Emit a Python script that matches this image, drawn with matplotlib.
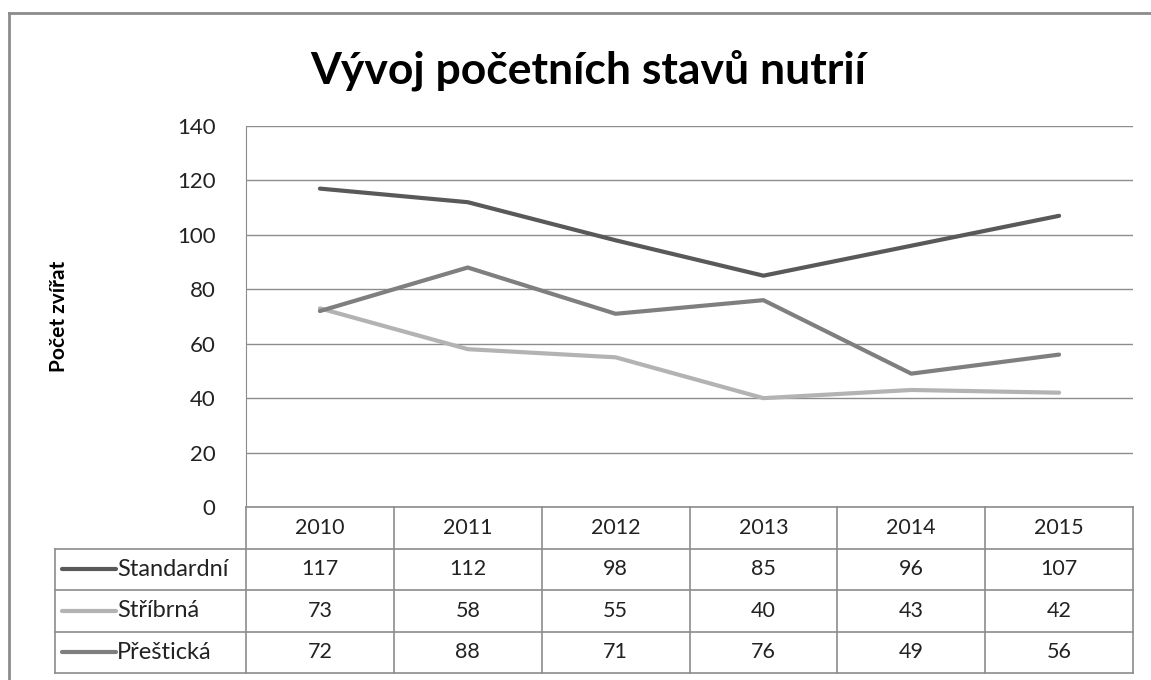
import numpy as np
import matplotlib.pyplot as plt

years = ['2010', '2011', '2012', '2013', '2014', '2015']
series_names = ['Standardní', 'Stříbrná', 'Přeštická']
standardni = [117, 112, 98, 85, 96, 107]
stribrna = [73, 58, 55, 40, 43, 42]
presticka = [72, 88, 71, 76, 49, 56]
values = [standardni, stribrna, presticka]
colors = ['#595959', '#b3b3b3', '#7f7f7f']

plt.rcParams['font.family'] = ['Lato', 'DejaVu Sans']
W, H = 1151, 680
fig = plt.figure(figsize=(W / 100, H / 100), dpi=100)

# outer frame (only top and left edges fall inside the picture)
fig.add_artist(plt.Line2D([9 / W, 1.05], [1 - 13 / H, 1 - 13 / H], transform=fig.transFigure,
                          color='#8c8c8c', lw=2))
fig.add_artist(plt.Line2D([9 / W, 9 / W], [-0.05, 1 - 13 / H], transform=fig.transFigure,
                          color='#8c8c8c', lw=2))

fig.text(588 / W, 1 - 70 / H, 'Vývoj početních stavů nutrií', ha='center', va='center',
         fontsize=32, fontweight='bold', color='black')

x0, x1, y0, y1 = 246, 1133, 126, 507
ax = fig.add_axes([x0 / W, 1 - y1 / H, (x1 - x0) / W, (y1 - y0) / H])
xs = np.arange(len(years)) + 0.5
for v, c in zip(values, colors):
    ax.plot(xs, v, color=c, lw=3, solid_capstyle='round', solid_joinstyle='round', zorder=3)
ax.set_xlim(0, len(years))
ax.set_ylim(0, 140)
ax.set_yticks(range(0, 141, 20))
ax.set_xticks([])
ax.grid(axis='y', color='#8c8c8c', lw=1)
for s in ['top', 'right', 'bottom']:
    ax.spines[s].set_visible(False)
ax.spines['left'].set_color('#8c8c8c')
ax.tick_params(axis='y', length=0, pad=22, labelsize=16, labelcolor='#222222')
ax.set_ylabel('Počet zvířat', fontsize=15, fontweight='bold')
ax.yaxis.set_label_coords(-0.2, 0.5)

# data table
t0 = 55
tab = fig.add_axes([t0 / W, 1 - 673 / H, (x1 - t0) / W, (673 - y1) / H])
colw = (x1 - x0) / len(years)
left = -(x0 - t0) / colw
tab.set_xlim(left, len(years))
tab.set_ylim(4, 0)
tab.axis('off')
gc = '#8c8c8c'
for r in range(1, 5):
    tab.plot([left, len(years)], [r, r], color=gc, lw=1.2, clip_on=False)
tab.plot([0, len(years)], [0, 0], color=gc, lw=1.2, clip_on=False)
for c in range(len(years) + 1):
    tab.plot([c, c], [0, 4], color=gc, lw=1.2, clip_on=False)
tab.plot([left, left], [1, 4], color=gc, lw=1.2, clip_on=False)
for i, y in enumerate(years):
    tab.text(i + 0.5, 0.5, y, ha='center', va='center', fontsize=15.5, color='#222222')
for r, (name, v, c) in enumerate(zip(series_names, values, colors)):
    yy = r + 1.5
    tab.plot([left + 0.045, left + 0.41], [yy, yy], color=c, lw=3, solid_capstyle='round')
    tab.text(left + 0.42, yy, name, ha='left', va='center', fontsize=17, color='#222222')
    for i, val in enumerate(v):
        tab.text(i + 0.5, yy, str(val), ha='center', va='center', fontsize=15.5, color='#222222')

fig.savefig('out.png', dpi=100)
